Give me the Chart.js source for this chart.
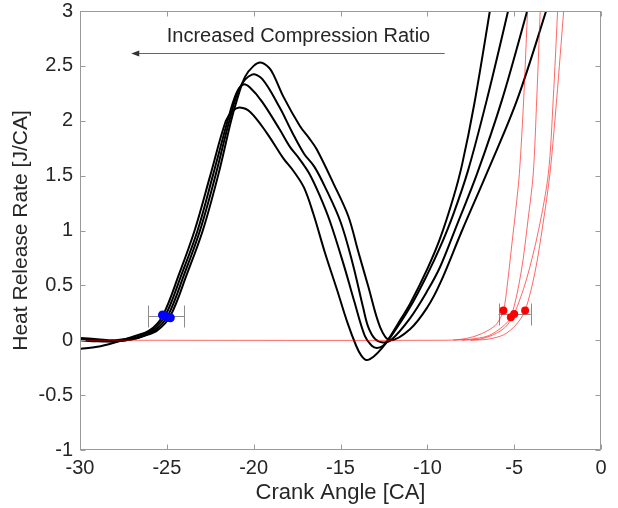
<!DOCTYPE html>
<html>
<head>
<meta charset="utf-8">
<script src="https://cdn.jsdelivr.net/npm/chart.js@4.4.0/dist/chart.umd.min.js"></script>
<style>
html, body { margin: 0; padding: 0; background: #fff; }
</style>
</head>
<body>
<canvas id="hrr-chart" width="618" height="508"></canvas>
<script>
// heat release rate, four compression ratios (black) + fitted ignition curves (red)
const c1Angle = [-30, -29, -28, -27, -26, -25.25, -24.3, -23.4, -22.5, -21.6, -21.2, -20.8, -20.2, -19.25, -18.3, -17.7, -17.1, -16.56, -15.9, -15.2, -14.6, -14.1, -13.8, -13.5, -13.1, -12.6, -12.2, -11.5, -11.0, -10.0, -9.26, -8.5, -8.0, -7.3, -6.4, -6.0];
const c1Hrr   = [-0.08, -0.06, -0.02, 0.03, 0.09, 0.22, 0.6, 1.0, 1.5, 2.0, 2.09, 2.12, 2.08, 1.89, 1.66, 1.54, 1.39, 1.15, 0.80, 0.46, 0.16, -0.05, -0.14, -0.18, -0.15, -0.07, 0.02, 0.2, 0.33, 0.65, 0.93, 1.3, 1.6, 2.15, 3.0, 3.4];

const c2Angle = [-30, -29, -28, -27, -26.5, -25.85, -25.1, -24.15, -23.23, -22.35, -21.5, -21.0, -20.6, -20.2, -19.5, -18.5, -17.9, -17.4, -16.8, -16.2, -15.6, -14.8, -14.2, -13.6, -13.2, -12.9, -12.55, -12.2, -11.0, -10.0, -9.26, -8.5, -7.65, -6.56, -5.35, -5.0];
const c2Hrr   = [0.02, 0.01, 0.0, 0.02, 0.04, 0.09, 0.22, 0.6, 1.0, 1.5, 2.0, 2.25, 2.33, 2.30, 2.17, 1.92, 1.76, 1.66, 1.52, 1.32, 1.08, 0.68, 0.35, 0.04, -0.05, -0.07, -0.05, 0.01, 0.3, 0.6, 0.85, 1.15, 1.55, 2.2, 3.0, 3.25];

const c3Angle = [-30, -29, -28, -27, -26.5, -25.7, -24.95, -24.0, -23.09, -22.2, -21.4, -20.8, -20.1, -19.5, -18.5, -17.8, -17.1, -16.5, -15.9, -15.0, -14.3, -13.7, -13.4, -13.0, -12.55, -12.1, -11.0, -10.0, -9.26, -8.3, -7.13, -5.7, -4.25, -4.0];
const c3Hrr   = [0.01, 0.0, -0.01, 0.01, 0.03, 0.09, 0.22, 0.6, 1.0, 1.5, 2.0, 2.3, 2.42, 2.38, 2.12, 1.90, 1.70, 1.58, 1.40, 1.08, 0.7, 0.3, 0.12, 0.01, -0.02, 0.0, 0.2, 0.45, 0.67, 1.05, 1.52, 2.19, 3.0, 3.15];

const c4Angle = [-30, -29, -28, -27, -26.3, -25.55, -24.8, -23.85, -22.93, -22.05, -21.3, -21.0, -20.5, -20.0, -19.6, -19.1, -18.8, -18.29, -17.33, -16.8, -16.37, -15.41, -14.55, -14.0, -13.4, -12.72, -12.14, -11.0, -10.0, -9.26, -8.0, -6.5, -4.83, -3.16, -2.8];
const c4Hrr   = [0.0, -0.01, -0.01, 0.01, 0.04, 0.09, 0.22, 0.6, 1.0, 1.5, 2.0, 2.17, 2.40, 2.50, 2.53, 2.48, 2.40, 2.22, 1.95, 1.84, 1.74, 1.43, 1.13, 0.82, 0.49, 0.12, 0.0, 0.1, 0.3, 0.52, 1.0, 1.55, 2.19, 3.0, 3.2];

const r1Angle = [-30, -9, -8, -7.2, -6.5, -6.0, -5.62, -5.4, -5.15, -4.9, -4.7, -4.45, -4.23, -4.1];
const r1Hrr   = [0, 0, 0.01, 0.04, 0.09, 0.15, 0.27, 0.5, 0.85, 1.2, 1.52, 2.2, 3.0, 3.4];
const r2Angle = [-8.5, -7.5, -6.5, -5.7, -5.19, -4.6, -4.2, -3.9, -3.7, -3.5, -3.4];
const r2Hrr   = [0, 0.01, 0.04, 0.12, 0.21, 0.62, 1.1, 1.52, 2.2, 3.0, 3.4];
const r3Angle = [-8, -7, -6.2, -5.5, -5.0, -4.3, -3.6, -3.03, -2.75, -2.5, -2.4];
const r3Hrr   = [0, 0.01, 0.05, 0.12, 0.24, 0.55, 1.0, 1.52, 2.2, 3.0, 3.4];
const r4Angle = [-7.5, -6.5, -5.6, -4.9, -4.37, -3.8, -3.35, -2.94, -2.55, -2.15, -2.0];
const r4Hrr   = [0, 0.01, 0.05, 0.14, 0.27, 0.62, 1.05, 1.52, 2.2, 3.0, 3.3];

// start of combustion markers
const blueAngle = [-25.25, -25.1, -24.95, -24.8];
const blueHrr   = [0.23, 0.22, 0.21, 0.205];
const redAngle  = [-5.62, -5.19, -5.0, -4.37];
const redHrr    = [0.27, 0.21, 0.24, 0.27];

// horizontal error bars: centre, half width, level
const barCentre = [-25.04, -4.97];
const barHalf   = [1.04, 0.93];
const barLevel  = [0.22, 0.24];

const xTicks = [-30, -25, -20, -15, -10, -5, 0];
const yTicks = [-1, -0.5, 0, 0.5, 1, 1.5, 2, 2.5, 3];

const arrowText = 'Increased Compression Ratio';
const arrowFrom = -9.0;
const arrowTo = -27.05;
const arrowLevel = 2.615;
const textAngle = -17.42;
const textLevel = 2.765;

const FONT = '"Liberation Sans", Arial, Helvetica, sans-serif';

function pts(xs, ys) {
    return xs.map((v, i) => ({ x: v, y: ys[i] }));
}

function blackLine(xs, ys) {
    return {
        data: pts(xs, ys),
        borderColor: '#000000',
        borderWidth: 2,
        pointRadius: 0,
        tension: 0.35,
        order: 3
    };
}

function redLine(xs, ys) {
    return {
        data: pts(xs, ys),
        borderColor: 'rgba(255,0,0,0.6)',
        borderWidth: 1,
        pointRadius: 0,
        tension: 0.3,
        order: 2
    };
}

const axesBox = {
    id: 'axesBox',
    beforeDatasetsDraw(chart) {
        const { ctx, scales: { x, y } } = chart;
        ctx.save();
        ctx.strokeStyle = '#8c8c8c';
        ctx.lineWidth = 1;
        for (let i = 0; i < barCentre.length; i++) {
            const x0 = x.getPixelForValue(barCentre[i] - barHalf[i]);
            const x1 = x.getPixelForValue(barCentre[i] + barHalf[i]);
            const py = Math.round(y.getPixelForValue(barLevel[i])) + 0.5;
            ctx.beginPath();
            ctx.moveTo(x0, py);
            ctx.lineTo(x1, py);
            ctx.moveTo(Math.round(x0) + 0.5, py - 11);
            ctx.lineTo(Math.round(x0) + 0.5, py + 11);
            ctx.moveTo(Math.round(x1) + 0.5, py - 11);
            ctx.lineTo(Math.round(x1) + 0.5, py + 11);
            ctx.stroke();
        }
        ctx.restore();
    },
    afterDatasetsDraw(chart) {
        const { ctx, chartArea: a, scales: { x, y } } = chart;
        ctx.save();
        ctx.strokeStyle = '#9a9a9a';
        ctx.lineWidth = 1;
        const l = Math.round(a.left) + 0.5, r = Math.round(a.right) - 0.5;
        const t = Math.round(a.top) + 0.5, b = Math.round(a.bottom) - 0.5;
        ctx.strokeRect(l, t, r - l, b - t);
        ctx.beginPath();
        xTicks.forEach(v => {
            const px = Math.round(x.getPixelForValue(v)) + 0.5;
            ctx.moveTo(px, b); ctx.lineTo(px, b - 5);
            ctx.moveTo(px, t); ctx.lineTo(px, t + 5);
        });
        yTicks.forEach(v => {
            const py = Math.round(y.getPixelForValue(v)) + 0.5;
            ctx.moveTo(l, py); ctx.lineTo(l + 5, py);
            ctx.moveTo(r, py); ctx.lineTo(r - 5, py);
        });
        ctx.stroke();

        // annotation arrow
        const ay = Math.round(y.getPixelForValue(arrowLevel)) + 0.5;
        const ax0 = x.getPixelForValue(arrowFrom);
        const ax1 = x.getPixelForValue(arrowTo);
        ctx.strokeStyle = '#666666';
        ctx.beginPath();
        ctx.moveTo(ax0, ay);
        ctx.lineTo(ax1 + 4, ay);
        ctx.stroke();
        ctx.fillStyle = '#333333';
        ctx.beginPath();
        ctx.moveTo(ax1, ay);
        ctx.lineTo(ax1 + 8, ay - 3);
        ctx.lineTo(ax1 + 8, ay + 3);
        ctx.closePath();
        ctx.fill();

        ctx.fillStyle = '#262626';
        ctx.font = '20px ' + FONT;
        ctx.textAlign = 'center';
        ctx.textBaseline = 'middle';
        ctx.fillText(arrowText, x.getPixelForValue(textAngle), y.getPixelForValue(textLevel));
        ctx.restore();
    }
};

const chart = new Chart(document.getElementById('hrr-chart').getContext('2d'), {
    type: 'line',
    data: {
        datasets: [
            {
                data: pts(blueAngle, blueHrr),
                showLine: false,
                pointRadius: 4.5,
                pointBackgroundColor: '#0000ff',
                pointBorderWidth: 0,
                order: 0
            },
            {
                data: pts(redAngle, redHrr),
                showLine: false,
                pointRadius: 4,
                pointBackgroundColor: '#ff0000',
                pointBorderWidth: 0,
                order: 0
            },
            redLine(r1Angle, r1Hrr),
            redLine(r2Angle, r2Hrr),
            redLine(r3Angle, r3Hrr),
            redLine(r4Angle, r4Hrr),
            blackLine(c1Angle, c1Hrr),
            blackLine(c2Angle, c2Hrr),
            blackLine(c3Angle, c3Hrr),
            blackLine(c4Angle, c4Hrr)
        ]
    },
    options: {
        responsive: false,
        animation: false,
        layout: { padding: { left: 0, right: 17, top: 11, bottom: 0 } },
        plugins: { legend: { display: false }, tooltip: { enabled: false } },
        scales: {
            x: {
                type: 'linear',
                min: -30,
                max: 0,
                afterBuildTicks: s => { s.ticks = xTicks.map(v => ({ value: v })); },
                afterFit: s => { s.height = 58; s.paddingLeft = 0; s.paddingRight = 0; },
                grid: { display: false, drawTicks: false },
                border: { display: false },
                ticks: {
                    padding: 6,
                    color: '#262626',
                    font: { family: FONT, size: 20 },
                    callback: v => String(v)
                },
                title: {
                    display: true,
                    text: 'Crank Angle [CA]',
                    color: '#262626',
                    font: { family: FONT, size: 22 },
                    padding: { top: 0, bottom: 2 }
                }
            },
            y: {
                min: -1,
                max: 3,
                afterBuildTicks: s => { s.ticks = yTicks.map(v => ({ value: v })); },
                afterFit: s => { s.width = 80; s.paddingTop = 0; s.paddingBottom = 0; },
                grid: { display: false, drawTicks: false },
                border: { display: false },
                ticks: {
                    padding: 7,
                    color: '#262626',
                    font: { family: FONT, size: 20 },
                    callback: v => String(v)
                },
                title: {
                    display: true,
                    text: 'Heat Release Rate [J/CA]',
                    color: '#262626',
                    font: { family: FONT, size: 21 },
                    padding: { top: 9, bottom: 0 }
                }
            }
        }
    },
    plugins: [axesBox]
});
</script>
</body>
</html>
